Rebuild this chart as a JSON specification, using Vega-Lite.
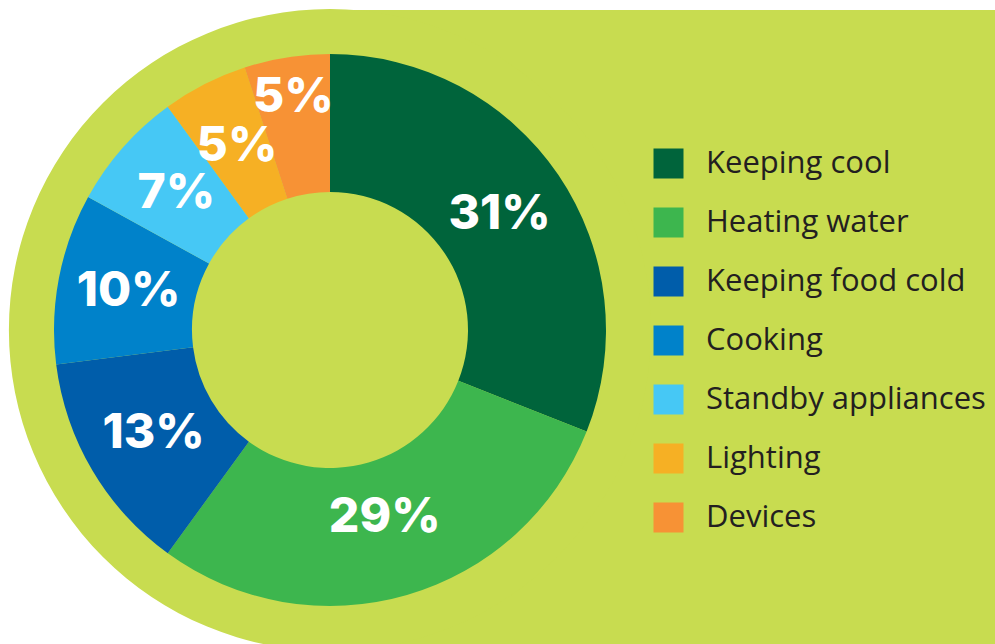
{
  "$schema": "https://vega.github.io/schema/vega-lite/v6.json",
  "autosize": {"type": "fit", "contains": "padding"},
  "width": 995,
  "height": 644,
  "padding": 0,
  "background": "white",
  "config": {"view": {"stroke": null}},
  "layer": [
    {
      "data": {"values": [{"shape": "panel"}]},
      "mark": {"type": "rect", "x": 330, "x2": 995, "y": 10, "y2": 644, "color": "#C8DC50"},
      "encoding": {}
    },
    {
      "data": {"values": [{"shape": "disc"}]},
      "mark": {"type": "arc", "x": 330, "y": 330, "radius": 321, "theta": 0, "theta2": 6.2832, "color": "#C8DC50", "clip": true},
      "encoding": {}
    },
    {
      "data": {"name": "usage", "values": [
        {"category": "Keeping cool", "share": 31, "label": "31%", "order": 1},
        {"category": "Heating water", "share": 29, "label": "29%", "order": 2},
        {"category": "Keeping food cold", "share": 13, "label": "13%", "order": 3},
        {"category": "Cooking", "share": 10, "label": "10%", "order": 4},
        {"category": "Standby appliances", "share": 7, "label": "7%", "order": 5},
        {"category": "Lighting", "share": 5, "label": "5%", "order": 6},
        {"category": "Devices", "share": 5, "label": "5%", "order": 7}
      ]},
      "layer": [
        {
          "mark": {"type": "arc", "x": 330, "y": 330, "radius": 276, "radius2": 138},
          "encoding": {
            "theta": {"field": "share", "type": "quantitative", "stack": true},
            "order": {"field": "order", "type": "quantitative"},
            "color": {
              "field": "category",
              "type": "nominal",
              "sort": ["Keeping cool", "Heating water", "Keeping food cold", "Cooking", "Standby appliances", "Lighting", "Devices"],
              "scale": {
                "domain": ["Keeping cool", "Heating water", "Keeping food cold", "Cooking", "Standby appliances", "Lighting", "Devices"],
                "range": ["#00643B", "#3DB64E", "#005DAA", "#0082CA", "#46C8F5", "#F6B024", "#F79235"]
              },
              "legend": {
                "orient": "none",
                "legendX": 653,
                "legendY": 148,
                "title": null,
                "padding": 0,
                "symbolType": "square",
                "symbolSize": 900,
                "symbolStrokeWidth": 0,
                "symbolOffset": 0,
                "labelOffset": 22,
                "labelFont": "Open Sans",
                "labelFontSize": 31,
                "labelColor": "#231F20",
                "labelLimit": 400,
                "rowPadding": 27,
                "labelBaseline": "middle"
              }
            }
          }
        },
        {
          "mark": {
            "type": "text", "x": 330, "y": 330,
            "radius": {"expr": "datum.category === 'Devices' ? 235 : (datum.category === 'Heating water' ? 196 : 205)"},
            "font": "Inter", "fontWeight": 800, "fontSize": 48, "color": "white", "align": "center", "baseline": "middle"
          },
          "encoding": {
            "theta": {"field": "share", "type": "quantitative", "stack": true},
            "order": {"field": "order", "type": "quantitative"},
            "text": {"field": "label", "type": "nominal"}
          }
        }
      ]
    }
  ]
}
